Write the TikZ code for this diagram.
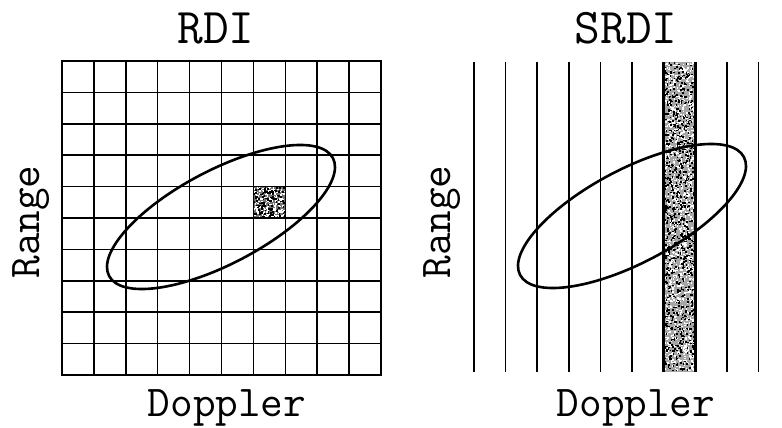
\documentclass[tikz,border=0pt]{standalone}
\usepackage{fontspec}
\begin{document}
\begin{tikzpicture}[x=1pt,y=-1pt,
  title/.style={font=\ttfamily\fontsize{50}{60}\selectfont, inner sep=0pt, anchor=base},
  axlabel/.style={font=\ttfamily\fontsize{44}{52}\selectfont, inner sep=0pt, anchor=base},
  gridline/.style={line width=1.5pt, black},
  border/.style={line width=2pt, black},
  ell/.style={line width=2.6pt, black}]
\useasboundingbox (0,0) rectangle (782,428);
\fill[white] (0,0) rectangle (782,428);

% ---------- left panel: RDI ----------
% shaded cell
\fill[black!55] (253.4,186.6) rectangle (285.3,218);
\pgfmathsetseed{7}
\foreach \k in {1,...,260}{
  \pgfmathsetmacro{\rx}{253.4+30.4*rnd}
  \pgfmathsetmacro{\ry}{186.6+30*rnd}
  \fill[white] (\rx,\ry) rectangle ++(1.5,1.5);
}
\foreach \k in {1,...,120}{
  \pgfmathsetmacro{\rx}{253.4+30.4*rnd}
  \pgfmathsetmacro{\ry}{186.6+30*rnd}
  \fill[black] (\rx,\ry) rectangle ++(1.8,1.8);
}
% grid
\foreach \i in {1,...,9}{
  \draw[gridline] ({62+\i*31.9},61) -- ({62+\i*31.9},375);
  \draw[gridline] (62,{61+\i*31.4}) -- (381,{61+\i*31.4});
}
\draw[border] (62,61) rectangle (381,375);
\begin{scope}[shift={(221,217)}, rotate=27.8]
  \draw[ell] (0,0) ellipse [x radius=126.5, y radius=46.7];
\end{scope}
\node[title] (t1) at (216,44) {RDI};
\node[axlabel] (d1) at (227,416) {Doppler};
\node[axlabel, rotate=90] (r1) at (39,222) {Range};

% ---------- right panel: SRDI ----------
\fill[black!35] (663.6,62) rectangle (695.2,372);
\pgfmathsetseed{11}
\foreach \k in {1,...,1400}{
  \pgfmathsetmacro{\rx}{663.6+30*rnd}
  \pgfmathsetmacro{\ry}{62+308*rnd}
  \fill[white] (\rx,\ry) rectangle ++(1.5,1.5);
}
\foreach \k in {1,...,900}{
  \pgfmathsetmacro{\rx}{663.6+30*rnd}
  \pgfmathsetmacro{\ry}{62+308*rnd}
  \fill[black] (\rx,\ry) rectangle ++(1.6,1.6);
}
\foreach \i in {0,...,9}{
  \draw[gridline] ({474+\i*31.6},62) -- ({474+\i*31.6},372);
}
\draw[border, line width=2.6pt] (663.6,62) -- (663.6,372);
\draw[border, line width=2.6pt] (695.2,62) -- (695.2,372);
\begin{scope}[shift={(632,216)}, rotate=27.8]
  \draw[ell] (0,0) ellipse [x radius=126.5, y radius=46.7];
\end{scope}
\node[title] (t2) at (626,44) {SRDI};
\node[axlabel] (d2) at (636,416) {Doppler};
\node[axlabel, rotate=90] (r2) at (450,222) {Range};
\end{tikzpicture}
\end{document}
